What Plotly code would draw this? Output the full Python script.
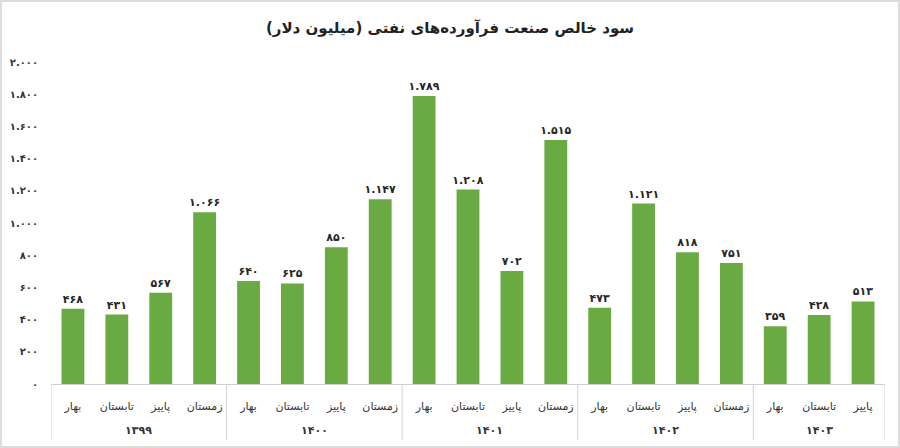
import plotly.graph_objects as go

# سال و فصل
year_names = ["۱۳۹۹", "۱۴۰۰", "۱۴۰۱", "۱۴۰۲", "۱۴۰۳"]
year_counts = [4, 4, 4, 4, 3]
season_names = ["بهار", "تابستان", "پاییز", "زمستان"]
profit = [468, 431, 567, 1066, 640, 625, 850, 1147, 1789, 1208, 702, 1515,
          473, 1121, 818, 751, 359, 428, 513]
y_ticks = [0, 200, 400, 600, 800, 1000, 1200, 1400, 1600, 1800, 2000]

fa = str.maketrans("0123456789,", "۰۱۲۳۴۵۶۷۸۹.")


def to_fa(v):
    return f"{v:,}".translate(fa)


years, seasons = [], []
for yn, c in zip(year_names, year_counts):
    years += [yn] * c
    seasons += season_names[:c]
keys = [y + " " + s for y, s in zip(years, seasons)]

W, H = 900, 448
ml, mr, mt, mb = 51, 15, 62, 64
pw, ph = W - ml - mr, H - mt - mb

fig = go.Figure()
fig.add_trace(go.Bar(
    x=keys, y=profit,
    marker=dict(color="#69AA43", line=dict(width=0)),
    text=["<b>" + to_fa(v) + "</b>" for v in profit],
    textposition="outside", constraintext="none",
    textfont=dict(family="DejaVu Sans", size=11, color="#262626"),
    cliponaxis=False,
))

# خطوط جداکننده و برچسب سال‌ها
start = 0
fig.add_shape(type="line", xref="x", yref="paper", x0=-0.5, x1=-0.5,
              y0=0, y1=-56 / ph, line=dict(color="#d0d0d0", width=1))
for yn, c in zip(year_names, year_counts):
    end = start + c
    fig.add_shape(type="line", xref="x", yref="paper", x0=end - 0.5, x1=end - 0.5,
                  y0=0, y1=-56 / ph, line=dict(color="#d0d0d0", width=1))
    fig.add_annotation(x=(start + end - 1) / 2, y=-46 / ph, xref="x", yref="paper",
                       text="<b>" + yn + "</b>", showarrow=False, yanchor="middle",
                       font=dict(family="DejaVu Sans", size=11, color="#333"))
    start = end

fig.update_layout(
    width=W, height=H,
    margin=dict(l=ml, r=mr, t=mt, b=mb),
    paper_bgcolor="white", plot_bgcolor="white",
    bargap=0.48,
    showlegend=False,
    title=dict(text="<b>سود خالص صنعت فرآورده‌های نفتی (میلیون دلار)</b>",
               x=0.5, xanchor="center", y=0.937, yanchor="middle",
               font=dict(family="DejaVu Sans", size=15, color="#222")),
    font=dict(family="DejaVu Sans", color="#333"),
)
fig.update_yaxes(
    range=[0, 2000], tickvals=y_ticks,
    ticktext=["<b>" + to_fa(v) + "</b>" for v in y_ticks],
    showgrid=False, zeroline=False, showline=False,
    tickfont=dict(size=10, color="#333"), ticks="", ticklabelstandoff=12,
    automargin=False,
)
fig.update_xaxes(
    type="category", range=[-0.5, len(profit) - 0.5],
    tickvals=keys, ticktext=seasons, tickangle=0,
    showline=True, linecolor="#d0d0d0", linewidth=1,
    tickfont=dict(size=11, color="#333"), ticks="", ticklabelstandoff=12,
    automargin=False,
)
# قاب دور تصویر
fig.add_shape(type="rect", xref="paper", yref="paper",
              x0=-(ml - 1) / pw, x1=1 + (mr - 1) / pw,
              y0=-(mb - 1) / ph, y1=1 + (mt - 1) / ph,
              line=dict(color="#dddddd", width=2), layer="below")

fig.write_html("out.html", config={"displayModeBar": False},
               post_script="document.body.style.margin='0';")
